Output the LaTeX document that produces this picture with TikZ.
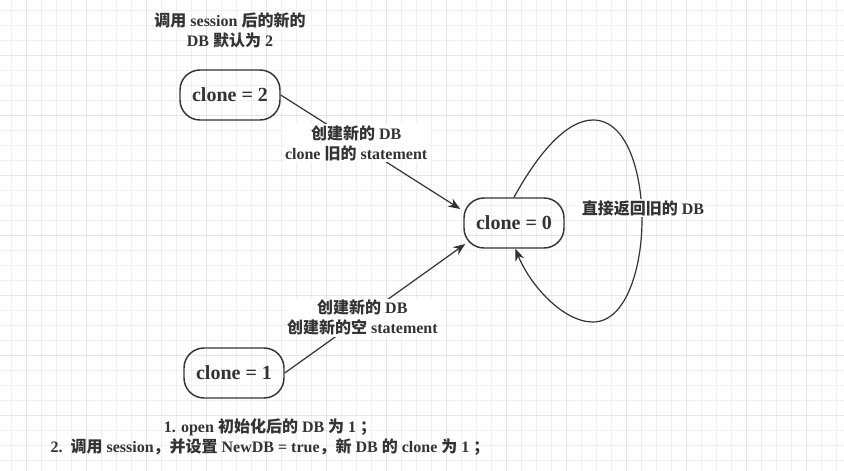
\documentclass[tikz,border=0pt]{standalone}
\usepackage{fontspec}
\setmainfont{Liberation Serif}
\newfontfamily\zhfont{Noto Sans CJK SC}
\newcommand{\zh}[1]{{\zhfont #1}}
\usetikzlibrary{arrows.meta}
\definecolor{ink}{HTML}{333333}
\definecolor{gridminor}{HTML}{F0F0F0}
\definecolor{gridmajor}{HTML}{E4E4E4}
\begin{document}
\begin{tikzpicture}[x=0.75pt,y=-0.75pt,
  state/.style={draw=ink,line width=1.1pt,rounded corners=15pt,minimum width=75pt,minimum height=37.5pt,inner sep=0pt,font=\fontsize{15pt}{18pt}\selectfont\bfseries,text=ink},
  lbl/.style={fill=white,inner sep=1pt,align=center,font=\fontsize{12pt}{15pt}\selectfont\bfseries,text=ink},
  txt/.style={inner sep=0pt,align=center,font=\fontsize{12pt}{15pt}\selectfont\bfseries,text=ink},
  conn/.style={draw=ink,line width=0.9pt,-{Stealth[length=9pt,width=7pt]}},
  plain/.style={draw=ink,line width=0.9pt}]
\useasboundingbox (0,0) rectangle (844,471);
\fill[white] (0,0) rectangle (844,471);
% grid
\foreach \i in {0,...,55} {\draw[gridminor,line width=0.6pt] ({11.7+15*\i},0) -- ({11.7+15*\i},471);}
\foreach \j in {0,...,31} {\draw[gridminor,line width=0.6pt] (0,{10+15*\j}) -- (844,{10+15*\j});}
\foreach \i in {0,...,13} {\draw[gridmajor,line width=0.6pt] ({26.7+60*\i},0) -- ({26.7+60*\i},471);}
\foreach \j in {0,...,7} {\draw[gridmajor,line width=0.6pt] (0,{55+60*\j}) -- (844,{55+60*\j});}
% nodes
\node[state] (c2) at (230,95) {clone = 2};
\node[state] (c0) at (514,223) {clone = 0};
\node[state] (c1) at (234,373) {clone = 1};
\node[txt] (top) at (230,30) {\zh{调用} session \zh{后的新的}\\DB \zh{默认为} 2};
\node[txt] (bottom) at (270,437) {1. open \zh{初始化后的} DB \zh{为} 1 \zh{；}\\2.\ \ \zh{调用} session\zh{，并设置} NewDB = true\zh{，新} DB \zh{的} clone \zh{为} 1 \zh{；}};
% edges
\draw[conn] (c2.east) -- ([shift={(-3,-14)}]c0.west) node[lbl,pos=0.42] (l1) {\zh{创建新的} DB\\clone \zh{旧的} statement};
\draw[conn] (c1.east) -- ([shift={(2,21)}]c0.west) node[lbl,pos=0.43] (l2) {\zh{创建新的} DB\\\zh{创建新的空} statement};
\draw[conn] (c0.north) .. controls (540,150) and (568,120) .. (593,120) .. controls (628,120) and (642,175) .. (642,220) .. controls (642,268) and (626,322) .. (593,322) .. controls (563,322) and (530,285) .. ([xshift=1]c0.south);
\node[lbl] (l3) at (643,208) {\zh{直接返回旧的} DB};
\end{tikzpicture}
\end{document}
